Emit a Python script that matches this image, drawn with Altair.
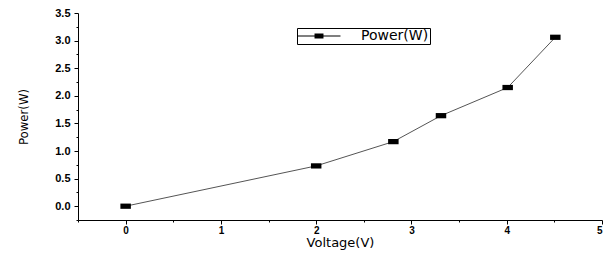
import altair as alt
import pandas as pd

voltage = [0.0, 2.0, 2.81, 3.31, 4.01, 4.51]
power = [0.0, 0.73, 1.17, 1.64, 2.15, 3.06]
series = ["Power(W)"] * len(voltage)

x_major = [0, 1, 2, 3, 4, 5]
x_minor = [-0.5, 0.5, 1.5, 2.5, 3.5, 4.5]
y_major = [0.0, 0.5, 1.0, 1.5, 2.0, 2.5, 3.0, 3.5]
y_minor = [-0.25, 0.25, 0.75, 1.25, 1.75, 2.25, 2.75, 3.25]

df = pd.DataFrame({"Voltage": voltage, "Power": power, "series": series})

FONT = "Liberation Sans"
WIDE = "DejaVu Sans"
x_scale = alt.Scale(domain=[-0.5, 5], nice=False, zero=False)
y_scale = alt.Scale(domain=[-0.25, 3.5], nice=False, zero=False)

marker = "M-1,-0.5H1V0.5H-1Z"
legend_sym = "M-3.07,-0.07H3.07V0.07H-3.07Z M-0.64,-0.36H0.64V0.36H-0.64Z"

x_axis = alt.Axis(values=x_major, title="Voltage(V)", grid=False, format="d",
                  tickSize=4, tickColor="black", domainColor="black",
                  labelFont=FONT, labelFontWeight="bold", labelFontSize=10,
                  labelColor="black", labelPadding=1,
                  titleFont=WIDE, titleFontSize=13, titleFontWeight="normal",
                  titleColor="black", titlePadding=1)
y_axis = alt.Axis(values=y_major, title="Power(W)", grid=False, format=".1f",
                  tickSize=4, tickColor="black", domainColor="black",
                  labelFont=FONT, labelFontWeight="bold", labelFontSize=11,
                  labelColor="black", labelPadding=4,
                  titleFont="Liberation Sans Narrow, DejaVu Sans Condensed",
                  titleFontSize=13, titleFontWeight="normal",
                  titleColor="black", titlePadding=24)

line = alt.Chart(df).mark_line(color="#555555", strokeWidth=1).encode(
    x=alt.X("Voltage:Q", scale=x_scale, axis=x_axis),
    y=alt.Y("Power:Q", scale=y_scale, axis=y_axis),
)

points = alt.Chart(df).mark_point(shape=marker, filled=True, size=110, opacity=1).encode(
    x=alt.X("Voltage:Q", scale=x_scale, axis=None),
    y=alt.Y("Power:Q", scale=y_scale, axis=None),
    color=alt.Color("series:N", scale=alt.Scale(range=["black"]),
                    legend=alt.Legend(title=None, orient="none", legendX=219, legendY=15,
                                      symbolType=legend_sym, symbolSize=196,
                                      symbolStrokeWidth=0, symbolFillColor="black",
                                      symbolOffset=14,
                                      labelFont=WIDE, labelFontSize=14, labelColor="black",
                                      strokeColor="black", fillColor="white",
                                      padding=1, labelOffset=35)),
)

minor_df = pd.DataFrame({"v": [0.0]})
minor_layer = alt.Chart(minor_df).mark_point(opacity=0).encode(
    x=alt.X("v:Q", scale=x_scale,
            axis=alt.Axis(values=x_minor, labels=False, title=None, grid=False,
                          domain=False, tickSize=2, tickColor="black", orient="bottom")),
    y=alt.Y("v:Q", scale=y_scale,
            axis=alt.Axis(values=y_minor, labels=False, title=None, grid=False,
                          domain=False, tickSize=2, tickColor="black", orient="left")),
)

chart = alt.layer(line, points, minor_layer).resolve_axis(
    x="independent", y="independent"
).properties(
    width=524, height=207,
    autosize=alt.AutoSizeParams(type="none"),
    padding={"left": 70, "top": 5, "right": 3, "bottom": 31},
).configure_view(stroke=None)

chart.save("out.html", embed_options={"renderer": "svg", "actions": False})
